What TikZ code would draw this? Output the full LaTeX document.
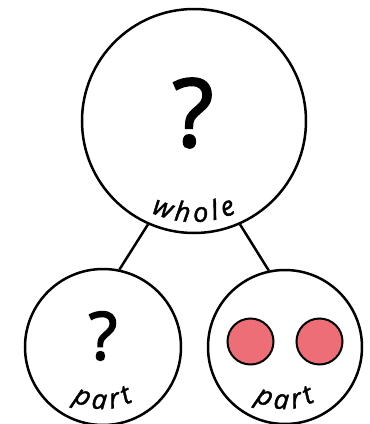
\documentclass[tikz,border=0pt]{standalone}
\usepackage{fontspec}
\setmainfont{Open Sans}
\newfontfamily\labelfam{Open Sans}[FakeBold=1.6]
\newfontfamily\markfam{Open Sans}[FakeBold=2.5]
\newcommand\labelfont{\labelfam\fontsize{27}{27}\selectfont\itshape}
\usetikzlibrary{decorations.text}
\definecolor{dotred}{HTML}{EE6E78}

\begin{document}
\begin{tikzpicture}[
    x=1pt, y=-1pt,
    ring/.style={draw, circle, line width=2.5pt, inner sep=0pt},
    counter/.style={draw, circle, line width=2pt, fill=dotred, minimum size=46pt, inner sep=0pt},
    link/.style={line width=2.5pt},
    query/.style={inner sep=0pt, font=\markfam\fontsize{#1}{#1}\selectfont},
    curvedlabel/.style={decorate, decoration={text effects along path, text={#1}, text align=center,
        text effects/.cd, text along path, characters={font=\labelfont},
        character widths={inner xsep=2.2pt, font=\labelfont}}}
]
\useasboundingbox (0,0) rectangle (370,424);
% the whole and its two parts
\node[ring, minimum size=224pt] (whole) at (194,121) {};
\node[ring, minimum size=156pt] (partL) at (103,347) {};
\node[ring, minimum size=154pt] (partR) at (285,347) {};
\draw[link] (whole.246) -- (partL.78);
\draw[link] (whole.294) -- (partR.102);
% contents
\node[query=94] (wholeq) at (193,113) {?};
\node[query=66] (partq) at (103,336) {?};
\node[counter] (dotA) at (250.5,341.5) {};
\node[counter] (dotB) at (319.5,341.5) {};
% curved labels
\path[curvedlabel=whole] ([shift={(whole.center)}]200:101pt) arc[start angle=200, end angle=340, radius=101pt];
\path[curvedlabel=part] ([shift={(partL.center)}]200:62pt) arc[start angle=200, end angle=340, radius=62pt];
\path[curvedlabel=part] ([shift={(partR.center)}]200:62pt) arc[start angle=200, end angle=340, radius=62pt];
\end{tikzpicture}
\end{document}
